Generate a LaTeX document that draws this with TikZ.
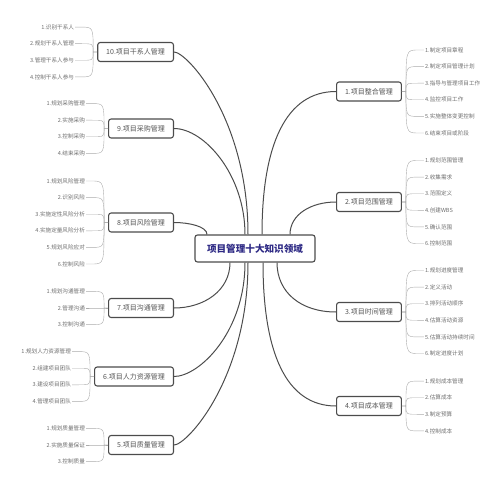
\documentclass[tikz,border=0pt]{standalone}
\usepackage{fontspec}
\setmainfont{Noto Sans CJK SC}
\usetikzlibrary{calc}
\definecolor{c1}{HTML}{2E2A85}
\definecolor{c2}{HTML}{4C4C4C}
\definecolor{c3}{HTML}{ABABAB}
\definecolor{c4}{HTML}{6E6E6E}
\definecolor{c5}{HTML}{555555}

\begin{document}
\begin{tikzpicture}[
  x=1pt, y=1pt,
  root/.style={draw=c2, line width=1.1pt, rounded corners=2.5pt, fill=white,
    minimum width=120pt, minimum height=27pt, inner sep=0pt,
    font=\fontsize{9.6}{11}\selectfont\bfseries, text=c1},
  area/.style={draw=c2, line width=1.1pt, rounded corners=2.5pt, fill=white,
    minimum height=19pt, inner xsep=8.5pt, inner ysep=0pt,
    font=\fontsize{7}{8}\selectfont, text=c5},
  leaf/.style={inner sep=1pt, font=\fontsize{5.6}{6}\selectfont, text=c4},
  limb/.style={draw=c2, line width=1pt},
  twig/.style={draw=c3, line width=0.4pt},
]
\useasboundingbox (0,0) rectangle (500,488);
% Root
\node[root] (root) at (255,239.5) {项目管理十大知识领域};
% Right branches
\node[area, anchor=west] (n1) at (336,396.5) {1.项目整合管理};
\node[area, anchor=west] (n2) at (336,286) {2.项目范围管理};
\node[area, anchor=west] (n3) at (336,176) {3.项目时间管理};
\node[area, anchor=west] (n4) at (336,82) {4.项目成本管理};
% Left branches
\node[area, anchor=east] (n5) at (174,43) {5.项目质量管理};
\node[area, anchor=east] (n6) at (174,111.5) {6.项目人力资源管理};
\node[area, anchor=east] (n7) at (174,180) {7.项目沟通管理};
\node[area, anchor=east] (n8) at (174,265.5) {8.项目风险管理};
\node[area, anchor=east] (n9) at (174,359.5) {9.项目采购管理};
\node[area, anchor=east] (n10) at (174,436) {10.项目干系人管理};
% Limbs
\draw[limb] ([xshift=7pt]root.north) .. controls +(0,90) and +(-50,0) .. (n1.west);
\draw[limb] ([xshift=35pt]root.north) .. controls +(0,20) and +(-25,0) .. (n2.west);
\draw[limb] ([xshift=22pt]root.south) .. controls +(0,-30) and +(-35,0) .. (n3.west);
\draw[limb] ([xshift=8pt]root.south) .. controls +(0,-90) and +(-50,0) .. (n4.west);
\draw[limb] ([xshift=-7pt]root.south) .. controls +(0,-116) and +(13,0) .. (n5.east);
\draw[limb] ([xshift=-10pt]root.south) .. controls +(0,-70) and +(25,0) .. (n6.east);
\draw[limb] ([xshift=-25pt]root.south) .. controls +(0,-28) and +(30,0) .. (n7.east);
\draw[limb] ([xshift=-48pt]root.north) .. controls +(0,8) and +(15,0) .. (n8.east);
\draw[limb] ([xshift=-10pt]root.north) .. controls +(0,60) and +(30,0) .. (n9.east);
\draw[limb] ([xshift=-7pt]root.north) .. controls +(0,116) and +(13,0) .. (n10.east);
% Leaves, right side
\foreach \b/\k/\items in {
  n1/6/{1.制定项目章程,2.制定项目管理计划,3.指导与管理项目工作,4.监控项目工作,5.实施整体变更控制,6.结束项目或阶段},
  n2/6/{1.规划范围管理,2.收集需求,3.范围定义,4.创建WBS,5.确认范围,6.控制范围},
  n3/6/{1.规划进度管理,2.定义活动,3.排列活动顺序,4.估算活动资源,5.估算活动持续时间,6.制定进度计划},
  n4/4/{1.规划成本管理,2.估算成本,3.制定预算,4.控制成本}%
}{
  \coordinate (\b-f) at ([xshift=4pt]\b.east);
  \foreach \t [count=\i] in \items {
    \node[leaf, anchor=west] (\b-\i) at ($(\b.east)+(22,{((\k+1)/2-\i)*16.6})$) {\t};
    \draw[twig] (\b.east) -- (\b-f) .. controls (\b-f |- \b-\i.west) .. ([xshift=-6pt]\b-\i.west) -- (\b-\i.west);
  }
}
% Leaves, left side
\foreach \b/\k/\items in {
  n5/3/{1.规划质量管理,2.实施质量保证,3.控制质量},
  n6/4/{1.规划人力资源管理,2.组建项目团队,3.建设项目团队,4.管理项目团队},
  n7/3/{1.规划沟通管理,2.管理沟通,3.控制沟通},
  n8/6/{1.规划风险管理,2.识别风险,3.实施定性风险分析,4.实施定量风险分析,5.规划风险应对,6.控制风险},
  n9/4/{1.规划采购管理,2.实施采购,3.控制采购,4.结束采购},
  n10/4/{1.识别干系人,2.规划干系人管理,3.管理干系人参与,4.控制干系人参与}%
}{
  \coordinate (\b-f) at ([xshift=-4pt]\b.west);
  \foreach \t [count=\i] in \items {
    \node[leaf, anchor=east] (\b-\i) at ($(\b.west)+(-22,{((\k+1)/2-\i)*16.6})$) {\t};
    \draw[twig] (\b.west) -- (\b-f) .. controls (\b-f |- \b-\i.east) .. ([xshift=6pt]\b-\i.east) -- (\b-\i.east);
  }
}
\end{tikzpicture}
\end{document}
